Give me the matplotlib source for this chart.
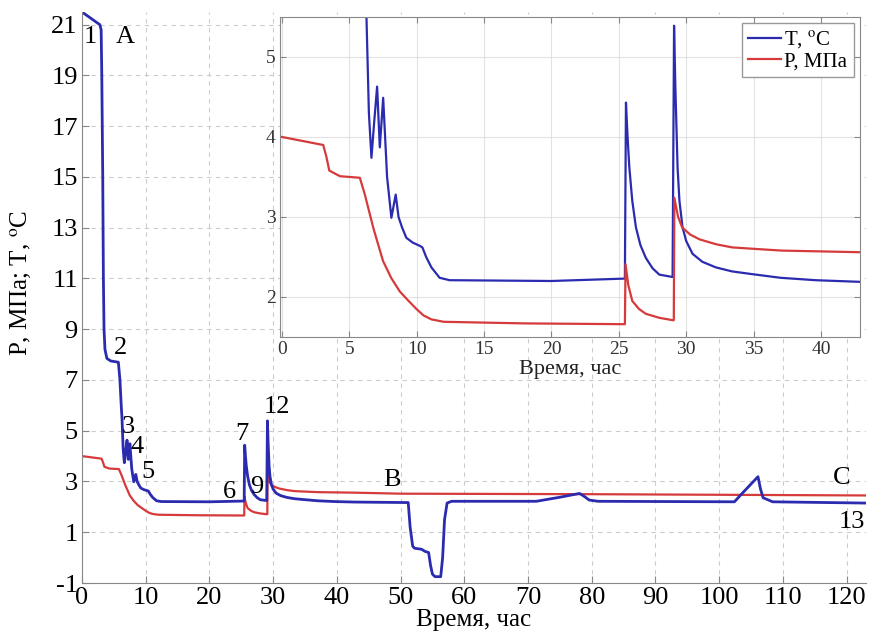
import numpy as np
import matplotlib
matplotlib.use('Agg')
import matplotlib.pyplot as plt

plt.rcParams['font.family'] = ['Liberation Serif', 'DejaVu Serif']
plt.rcParams['mathtext.fontset'] = 'stix'
plt.rcParams['axes.unicode_minus'] = False

######## data (time in hours)
t_T = [0, 2.8, 3.0, 3.1, 3.25, 3.35, 3.45, 3.6, 3.9, 4.5, 5.7, 5.95, 6.15, 6.27,
       6.45, 6.64, 6.85, 7.06, 7.26, 7.51, 7.8, 8.12, 8.44, 8.65, 8.91, 9.23,
       9.7, 10.22, 10.42, 10.7, 11.09, 11.7, 12.44, 20, 25.45,
       25.53, 25.65, 25.78, 26.0, 26.27, 26.6, 27.0, 27.5, 28.0, 28.99,
       29.1, 29.2, 29.36, 29.5, 29.73, 30.0, 30.47, 31.2, 32.2, 33.4, 34.7,
       37, 39.6, 42.8, 51.2, 51.5, 51.9, 52.2, 53.3, 53.8, 54.4, 54.7, 55.0,
       55.4, 56.3, 56.6, 56.9, 57.3, 58, 71.3, 75, 78.1, 78.9, 79.6, 81,
       102.4, 103.5, 106.1, 106.5, 106.9, 108.4, 123]
T_val = [21.5, 21.0, 20.8, 19.0, 15.0, 11.0, 9.0, 8.2, 7.85, 7.75, 7.7, 7.0, 6.0, 5.5,
         4.3, 3.74, 4.2, 4.63, 3.87, 4.49, 3.5, 2.99, 3.28, 3.0, 2.87, 2.74,
         2.68, 2.64, 2.62, 2.5, 2.37, 2.24, 2.21, 2.2, 2.23,
         4.43, 4.0, 3.62, 3.2, 2.87, 2.65, 2.49, 2.36, 2.28, 2.25,
         5.39, 4.6, 3.62, 3.2, 2.87, 2.7, 2.54, 2.44, 2.37, 2.32, 2.29,
         2.24, 2.21, 2.19, 2.17, 1.2, 0.45, 0.37, 0.33, 0.25, 0.2, -0.3, -0.65,
         -0.75, -0.75, 0.0, 1.5, 2.15, 2.22, 2.22, 2.38, 2.53, 2.4, 2.27, 2.22,
         2.2, 2.5, 3.19, 2.7, 2.36, 2.2, 2.15]

t_P = [0, 3.06, 3.3, 3.51, 4.3, 5.78, 6.15, 6.8, 7.5, 8.1, 8.74, 9.4, 9.98,
       10.5, 11.09, 12, 18, 25.45, 25.5, 25.7, 26.0, 26.5, 27.0, 28.0, 29.0,
       29.08, 29.12, 29.4, 29.7, 30.3, 31.0, 32.2, 33.4, 35.2, 37.1, 42.8,
       50, 80, 123]
P_val = [4.0, 3.9, 3.75, 3.58, 3.51, 3.49, 3.28, 2.85, 2.45, 2.24, 2.07, 1.95, 1.85,
         1.77, 1.72, 1.69, 1.67, 1.66, 2.41, 2.15, 1.95, 1.85, 1.79, 1.74, 1.71,
         1.71, 3.24, 3.0, 2.87, 2.78, 2.72, 2.66, 2.62, 2.6, 2.58, 2.56,
         2.52, 2.5, 2.45]

# point labels on the main chart
lbl_txt = ['1', 'A', '2', '3', '4', '5', '6', '7', '9', '12', 'B', 'C', '13']
lbl_x = [1.25, 6.75, 6.1, 7.2, 8.6, 10.35, 23.1, 25.1, 27.5, 30.6, 48.7, 119.2, 120.8]
lbl_y = [20.5, 20.5, 8.27, 5.13, 4.36, 3.36, 2.57, 4.88, 2.8, 5.94, 3.06, 3.14, 1.4]

blue = '#2b2bb0'
red = '#d63a3a'
gridc = '#cccccc'

fig = plt.figure(figsize=(8.7, 6.43), dpi=100)

####### main axes
ax = fig.add_axes([0.0943, 0.0933, 0.9007, 0.888])
ax.plot(t_P, P_val, color=red, lw=1.6)
ax.plot(t_T, T_val, color=blue, lw=2.0)
ax.set_xlim(0, 123)
ax.set_ylim(-1, 21.5)
ax.set_xticks(np.arange(0, 121, 10))
ax.set_yticks(np.arange(-1, 22, 2))
ax.grid(True, color=gridc, ls=(0, (4, 4)), lw=0.8)
for s in ['top', 'right']:
    ax.spines[s].set_visible(False)
for s in ['left', 'bottom']:
    ax.spines[s].set_color('#888888')
ax.tick_params(direction='in', length=5, color='#888888', labelsize=19, pad=3)
ax.set_xlabel('Время, час', fontsize=18, labelpad=0)
ax.set_ylabel(r'P, МПа; T, $^{\rm o}$C', fontsize=18, labelpad=2)
ax.yaxis.set_label_coords(-0.062, 0.525)
for s, x, y in zip(lbl_txt, lbl_x, lbl_y):
    ax.text(x, y, s, fontsize=19, ha='center', va='center')

####### inset
ins = fig.add_axes([0.3218, 0.4759, 0.6667, 0.4977])
ins.plot(t_T, T_val, color=blue, lw=1.6, label=r'T, $^{\rm o}$C')
ins.plot(t_P, P_val, color=red, lw=1.6, label='P, МПа')
ins.set_xlim(-0.15, 42.9)
ins.set_ylim(1.5, 5.5)
ins.set_xticks(np.arange(0, 41, 5))
ins.set_yticks([2, 3, 4, 5])
ins.grid(True, color='#e2e2e2', ls='-', lw=0.8)
for s in ins.spines.values():
    s.set_color('#888888')
ins.tick_params(direction='in', length=4, color='#888888', labelsize=14,
                labelcolor='#333333', top=True, right=True, pad=3)
ins.set_xlabel('Время, час', fontsize=16, labelpad=1, color='#222222')
leg = ins.legend(loc='upper right', fontsize=15, handlelength=1.6,
                 borderaxespad=0.3, fancybox=False, framealpha=1,
                 edgecolor='#999999', handletextpad=0.15, borderpad=0.3,
                 labelspacing=0.05)

fig.savefig('out.png', dpi=100)
